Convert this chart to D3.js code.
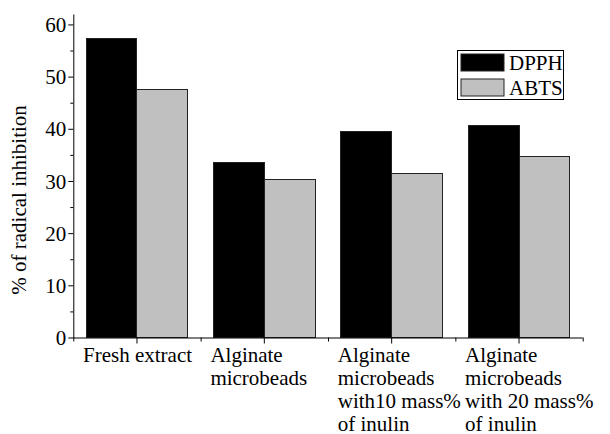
<!DOCTYPE html>
<html>
<head>
<meta charset="utf-8">
<script src="https://cdn.jsdelivr.net/npm/d3@7"></script>
<style>
  body { margin: 0; background: #fff; }
  svg text { font-family: "Liberation Serif", "Tinos", "Times New Roman", "DejaVu Serif", serif; }
</style>
</head>
<body>
<script>
const categories = ['fresh', 'alg', 'alg10', 'alg20']
const categoryLines = [
  ['Fresh extract'],
  ['Alginate', 'microbeads'],
  ['Alginate', 'microbeads', 'with10 mass%', 'of inulin'],
  ['Alginate', 'microbeads', 'with 20 mass%', 'of inulin']
]
const series = ['DPPH', 'ABTS']
const dpph = [57.4, 33.6, 39.5, 40.7]
const abts = [47.6, 30.3, 31.5, 34.6]
const yTicks = [0, 10, 20, 30, 40, 50, 60]

const colors = { DPPH: '#000', ABTS: '#c0c0c0' }
const font = '"Liberation Serif", "Tinos", "Times New Roman", "DejaVu Serif", serif'
const width = 610
const height = 434
const margin = { left: 73.3, right: 27.3, top: 14, bottom: 96.5 }

const svg = d3.select('body').append('svg')
  .attr('width', width)
  .attr('height', height)
  .attr('font-family', font)

const x = d3.scaleBand()
  .domain(categories)
  .range([margin.left, width - margin.right])
  .paddingInner(0.2)
  .paddingOuter(0.1)

const xs = d3.scaleBand()
  .domain(series)
  .range([0, x.bandwidth()])

const y = d3.scaleLinear()
  .domain([0, 62])
  .range([height - margin.bottom, margin.top])

const rows = categories.map((c, i) => ({ cat: c, DPPH: dpph[i], ABTS: abts[i] }))

// bars
svg.append('g')
  .selectAll('g')
  .data(rows)
  .join('g')
  .attr('transform', (d) => `translate(${x(d.cat)},0)`)
  .selectAll('rect')
  .data((d) => series.map((s) => ({ key: s, value: d[s] })))
  .join('rect')
  .attr('x', (d) => xs(d.key))
  .attr('y', (d) => y(d.value))
  .attr('width', xs.bandwidth())
  .attr('height', (d) => y(0) - y(d.value))
  .attr('fill', (d) => colors[d.key])
  .attr('stroke', '#222')
  .attr('stroke-width', 1)
  .attr('shape-rendering', 'crispEdges')

// y axis, minor ticks every 5
const yMinor = svg.append('g')
  .attr('transform', `translate(${margin.left},0)`)
  .call(d3.axisLeft(y).tickValues(d3.range(5, 60, 10)).tickSize(3).tickFormat(''))
yMinor.select('.domain').remove()

const yAxis = svg.append('g')
  .attr('transform', `translate(${margin.left},0)`)
  .call(d3.axisLeft(y).tickValues(yTicks).tickSize(5).tickSizeOuter(0).tickPadding(2))
yAxis.attr('font-family', font).attr('font-size', 21)
yAxis.selectAll('text').attr('dy', '0.34em')

// x axis: ticks at category centres and at boundaries
const boundaries = d3.range(categories.length + 1).map((i) => margin.left + i * x.step())
svg.append('g')
  .attr('transform', `translate(0,${y(0)})`)
  .call(d3.axisBottom(d3.scaleIdentity()).tickValues(boundaries).tickSize(4).tickFormat(''))
  .select('.domain').remove()

const xAxis = svg.append('g')
  .attr('transform', `translate(0,${y(0)})`)
  .call(d3.axisBottom(x).tickSize(6).tickSizeOuter(0).tickFormat(''))
xAxis.select('.domain').attr('d', `M${margin.left},0.5H${width - margin.right}`)

svg.selectAll('.tick line, .domain').attr('stroke', '#000')

// category labels
svg.append('g')
  .attr('font-family', font)
  .attr('font-size', 21)
  .selectAll('text')
  .data(categories)
  .join('text')
  .attr('x', (d) => x(d) - 3)
  .attr('y', y(0) + 24)
  .selectAll('tspan')
  .data((d, i) => categoryLines[i])
  .join('tspan')
  .attr('x', function() { return this.parentNode.getAttribute('x') })
  .attr('dy', (d, i) => (i === 0 ? 0 : 23))
  .text((d) => d)

// y title
svg.append('text')
  .attr('transform', `translate(26,${(y(0) + y(60)) / 2 + 19}) rotate(-90)`)
  .attr('text-anchor', 'middle')
  .attr('font-size', 21)
  .text('% of radical inhibition')

// legend
const legend = svg.append('g').attr('transform', 'translate(457.5,50.5)')
legend.append('rect')
  .attr('width', 106)
  .attr('height', 49)
  .attr('fill', '#fff')
  .attr('stroke', '#000')
const item = legend.selectAll('g')
  .data(series)
  .join('g')
  .attr('transform', (d, i) => `translate(3.5,${3.5 + i * 25})`)
item.append('rect')
  .attr('width', 43)
  .attr('height', 17)
  .attr('fill', (d) => colors[d])
  .attr('stroke', '#222')
item.append('text')
  .attr('x', 48)
  .attr('y', 15.5)
  .attr('font-size', 21)
  .text((d) => d)
</script>
</body>
</html>
